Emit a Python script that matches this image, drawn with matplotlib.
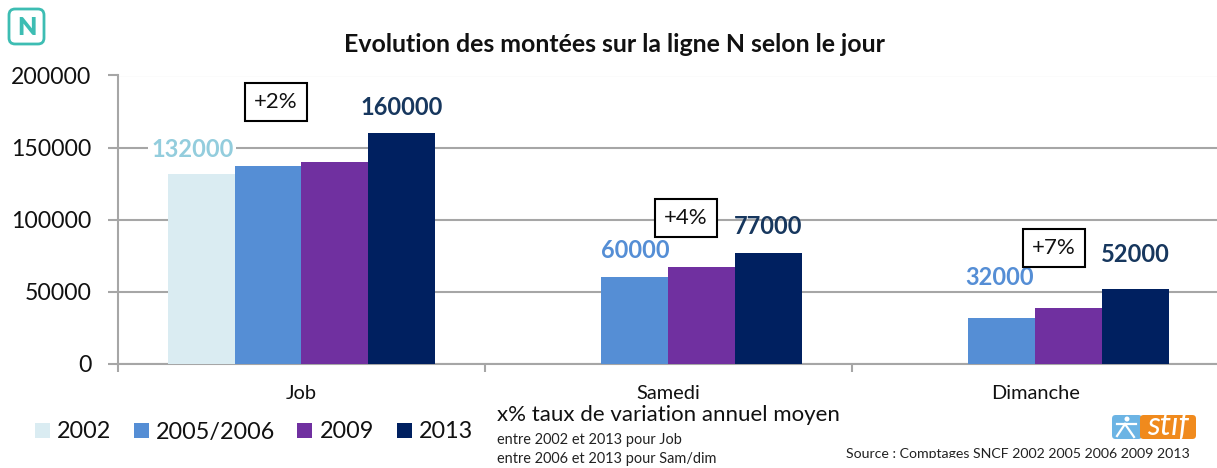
import numpy as np
import matplotlib
matplotlib.use('Agg')
import matplotlib.pyplot as plt
from matplotlib.lines import Line2D
from matplotlib.patches import Circle, FancyBboxPatch, Rectangle

plt.rcParams['font.family'] = ['Lato', 'DejaVu Sans']

W, H = 1217, 468

categories = ['Job', 'Samedi', 'Dimanche']
years = ['2002', '2005/2006', '2009', '2013']
v2002 = [132000, 0, 0]
v2005 = [137000, 60000, 32000]
v2009 = [140000, 67000, 39000]
v2013 = [160000, 77000, 52000]
yticks = [0, 50000, 100000, 150000, 200000]
rates = ['+2%', '+4%', '+7%']

colors = ['#DAECF2', '#558ED5', '#7030A0', '#002060']
label_colors = ['#93CDDD', '#558ED5', '#17375E']
grey = '#A6A6A6'


def px(x, y):
    # pixels of the reference to figure fraction
    return x / W, 1 - y / H


fig = plt.figure(figsize=(W / 100, H / 100), dpi=100)
ax = fig.add_axes([118 / W, 1 - 364 / H, (1218.5 - 118) / W, (364 - 75.5) / H])

x = np.arange(3)
bw = 0.182
series = [v2002, v2005, v2009, v2013]
for i, vals in enumerate(series):
    ax.bar(x + (i - 1.5) * bw, vals, bw, color=colors[i], zorder=3, label=years[i])

ax.set_xlim(-0.5, 2.5)
ax.set_ylim(0, 200000)
ax.set_yticks(yticks)
ax.set_yticklabels([str(t) for t in yticks], fontsize=16.6, color='#111111')
ax.set_xticks([-0.5, 0.5, 1.5, 2.5])
ax.set_xticklabels([])
ax.tick_params(axis='y', length=7, color=grey, width=1.5, pad=12)
ax.tick_params(axis='x', length=6, color=grey, width=1.5, direction='out')
ax.grid(axis='y', color=grey, lw=1.5, zorder=0)
ax.set_axisbelow(True)
for s in ['top', 'right']:
    ax.spines[s].set_visible(False)
for s in ['left', 'bottom']:
    ax.spines[s].set_color(grey)
    ax.spines[s].set_linewidth(1.5)

for i, c in enumerate(categories):
    ax.annotate(c, (x[i], 0), xytext=(0, -21), textcoords='offset points', ha='center',
                va='center', fontsize=14.4, color='#111111')

# value labels, white box hides the gridline
bbox = dict(facecolor='white', edgecolor='none', pad=2)
lab_kw = dict(ha='center', va='center', fontsize=17, fontweight='bold', zorder=5)
ax.text(x[0] - 1.5 * bw - 0.024, 149000, v2002[0], color=label_colors[0], bbox=bbox, **lab_kw)
ax.text(x[1] - 0.5 * bw, 78500, v2005[1], color=label_colors[1], **lab_kw)
ax.text(x[2] - 0.5 * bw - 0.005, 60000, v2005[2], color=label_colors[1], **lab_kw)
for i, dy in enumerate([178000, 95000, 76000]):
    ax.text(x[i] + 1.5 * bw, dy, v2013[i], color=label_colors[2], **lab_kw)

# variation boxes
box_pos = [(276, 102), (686, 218), (1054, 248)]
for (bx, by), r in zip(box_pos, rates):
    fx, fy = px(bx, by)
    fig.text(fx, fy, r, ha='center', va='center', fontsize=16, color='#111111', zorder=6,
             bbox=dict(facecolor='white', edgecolor='black', lw=1.5, boxstyle='square,pad=0.42'))

# legend
leg_x = [35, 134, 297, 397]
txt_x = [57, 156, 320, 419]
for i, y_name in enumerate(years):
    fx, fy = px(leg_x[i], 423)
    fig.add_artist(Rectangle((fx, fy - 15 / H), 15 / W, 15 / H, transform=fig.transFigure,
                             facecolor=colors[i], edgecolor='none'))
    tx, ty = px(txt_x[i], 432)
    fig.text(tx, ty, y_name, ha='left', va='center', fontsize=16.8, color='#111111')

fx, fy = px(27, 28)
fig.add_artist(FancyBboxPatch((9 / W, 1 - 44 / H), 35 / W, 35 / H, boxstyle='round,pad=0,rounding_size=0.005',
                              transform=fig.transFigure, facecolor='white', edgecolor='#3DBDB3', lw=2,
                              mutation_aspect=W / H))
fig.text(fx, fy, 'N', ha='center', va='center', fontsize=18, fontweight='heavy', color='#3DBDB3')

tx, ty = px(614, 45)
fig.text(tx, ty, 'Evolution des montées sur la ligne N selon le jour', ha='center', va='center',
         fontsize=17.9, fontweight='bold', color='#111111')

tx, ty = px(497, 415)
fig.text(tx, ty, 'x% taux de variation annuel moyen', ha='left', va='center', fontsize=16, color='#111111')
tx, ty = px(497, 440)
fig.text(tx, ty, 'entre 2002 et 2013 pour Job', ha='left', va='center', fontsize=10.45, color='#222222')
tx, ty = px(497, 459)
fig.text(tx, ty, 'entre 2006 et 2013 pour Sam/dim', ha='left', va='center', fontsize=10.45, color='#222222')

# source line is cut off at the bottom in the original
tx, ty = px(846, 454)
src = fig.text(tx, ty, 'Source : Comptages SNCF 2002 2005 2006 2009 2013', ha='left', va='center',
               fontsize=10.15, color='#222222')
src.set_clip_path(Rectangle((840, H - 458), 370, 20, transform=None))
src.set_clip_on(True)

# stif logo
fig.add_artist(FancyBboxPatch((1112 / W, 1 - 439 / H), 30 / W, 24 / H, boxstyle='round,pad=0,rounding_size=0.003',
                              transform=fig.transFigure, facecolor='#6CB4E4', edgecolor='none',
                              mutation_aspect=W / H))
fig.add_artist(FancyBboxPatch((1140 / W, 1 - 439 / H), 56 / W, 24 / H, boxstyle='round,pad=0,rounding_size=0.003',
                              transform=fig.transFigure, facecolor='#F08A1D', edgecolor='none',
                              mutation_aspect=W / H))
tx, ty = px(1168, 426)
fig.text(tx, ty, 'stif', ha='center', va='center', fontsize=23, style='italic', color='white')
# little runner
for seg in [((1117, 1136), (424, 424)), ((1125, 1117), (424, 436)), ((1125, 1134), (424, 437))]:
    fig.add_artist(Line2D([p / W for p in seg[0]], [1 - p / H for p in seg[1]],
                          transform=fig.transFigure, color='white', lw=1.6))
cx, cy = px(1127, 419)
fig.add_artist(Circle((cx * W, cy * H), 2.5, transform=None, facecolor='white', edgecolor='none'))

fig.savefig('out.png', dpi=100)
